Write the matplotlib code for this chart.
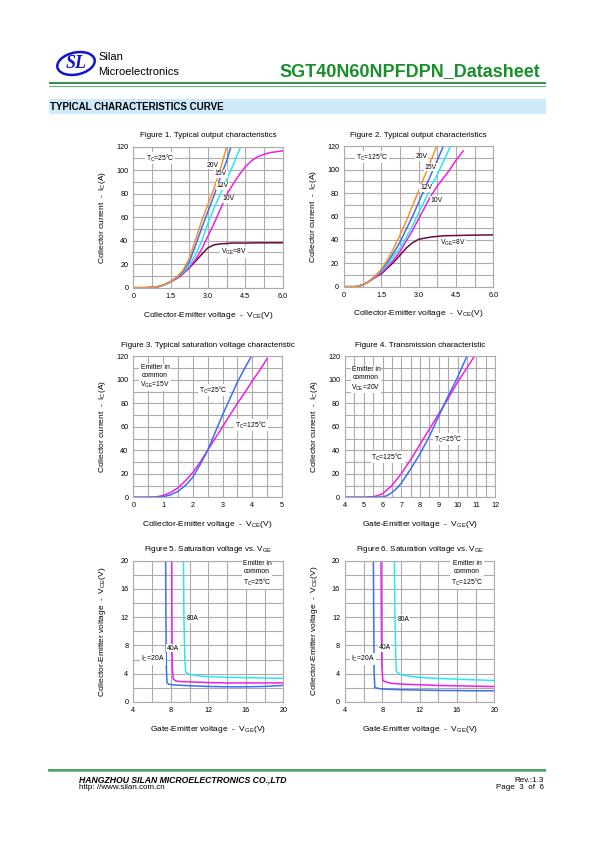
import numpy as np
import matplotlib.pyplot as plt
from matplotlib.patches import Ellipse, Rectangle

plt.rcParams['font.family'] = ['Liberation Sans', 'DejaVu Sans']
plt.rcParams['mathtext.fontset'] = 'custom'
plt.rcParams['mathtext.rm'] = 'Liberation Sans'
plt.rcParams['mathtext.it'] = 'Liberation Sans:italic'
plt.rcParams['mathtext.bf'] = 'Liberation Sans:bold'

# ---- Figure 1: output characteristics, Tc=25C (VCE in V, IC in A)
f1_v20 = [0, 0.5, 0.8, 1.0, 1.25, 1.5, 1.75, 2.0, 2.25, 2.5, 2.75, 3.0, 3.25, 3.5, 3.75]
f1_i20 = [0, 0, 0.3, 1, 2.5, 5, 9, 15, 25, 41, 57, 71, 85, 101, 120]
f1_v15 = [0, 0.5, 0.8, 1.0, 1.25, 1.5, 1.75, 2.0, 2.25, 2.5, 2.75, 3.0, 3.25, 3.5, 3.75, 3.92]
f1_i15 = [0, 0, 0.3, 1, 2.5, 5, 9, 14, 22, 36, 51, 65, 79, 94, 108, 120]
f1_v12 = [0, 0.5, 0.8, 1.0, 1.25, 1.5, 1.75, 2.0, 2.25, 2.5, 2.75, 3.0, 3.25, 3.5, 3.75, 4.0, 4.31]
f1_i12 = [0, 0, 0.3, 1, 2.5, 5, 9, 13, 19, 28, 40, 55, 68, 80, 92, 104, 120]
f1_v10 = [0, 0.5, 0.8, 1.0, 1.25, 1.5, 1.75, 2.0, 2.25, 2.5, 2.75, 3.0, 3.25, 3.5, 3.75,
          4.0, 4.25, 4.5, 4.75, 5.0, 5.25, 5.5, 6.0]
f1_i10 = [0, 0, 0.3, 1, 2.5, 5, 8.5, 12.5, 17.5, 24, 33, 44, 55, 67, 79,
          88, 96, 103, 108, 111.5, 113.5, 115, 116.5]
f1_v8 = [0, 0.5, 0.8, 1.0, 1.25, 1.5, 1.75, 2.0, 2.25, 2.5, 2.75, 3.0, 3.25, 3.5, 4.0, 4.5, 5.0, 6.0]
f1_i8 = [0, 0, 0.2, 0.8, 2.5, 5, 8, 12, 17, 22.5, 28.5, 34, 36.5, 37.3, 38, 38, 38.2, 38.2]

# ---- Figure 2: output characteristics, Tc=125C
f2_v20 = [0, 0.45, 0.6, 0.8, 1.0, 1.25, 1.5, 1.75, 2.0, 2.25, 2.5, 2.75, 3.0, 3.25, 3.5, 3.72]
f2_i20 = [0, 0, 0.5, 2, 4.5, 9, 15, 23, 33, 44, 56, 69, 82, 95, 108, 120]
f2_v15 = [0, 0.45, 0.6, 0.8, 1.0, 1.25, 1.5, 1.75, 2.0, 2.25, 2.5, 2.75, 3.0, 3.25, 3.5, 3.75, 3.99]
f2_i15 = [0, 0, 0.5, 2, 4.5, 9, 14, 21, 29, 38, 49, 60, 72, 84, 96, 108, 120]
f2_v12 = [0, 0.45, 0.6, 0.8, 1.0, 1.25, 1.5, 1.75, 2.0, 2.25, 2.5, 2.75, 3.0, 3.25, 3.5, 3.75, 4.0, 4.28]
f2_i12 = [0, 0, 0.5, 2, 4.5, 9, 13, 19, 26, 33, 42, 52, 63, 74, 85, 96, 107, 120]
f2_v10 = [0, 0.45, 0.6, 0.8, 1.0, 1.25, 1.5, 1.75, 2.0, 2.25, 2.5, 2.75, 3.0, 3.25, 3.5, 3.75,
          4.0, 4.25, 4.5, 4.79]
f2_i10 = [0, 0, 0.5, 2, 4.5, 8, 12, 17, 23, 30, 39, 48, 58, 68, 78, 86, 93, 100, 108, 116]
f2_v8 = [0, 0.45, 0.6, 0.8, 1.0, 1.25, 1.5, 1.75, 2.0, 2.25, 2.5, 2.75, 3.0, 3.5, 4.0, 5.0, 6.0]
f2_i8 = [0, 0, 0.5, 2, 4.5, 8, 11, 16, 21, 27, 33, 37.5, 40.5, 42.5, 43.5, 44, 44.3]

# ---- Figure 3: saturation voltage characteristic, VGE=15V
f3_v25 = [0, 0.5, 0.9, 1.0, 1.25, 1.5, 1.75, 2.0, 2.25, 2.5, 2.75, 3.0, 3.25, 3.5, 3.75, 3.97]
f3_i25 = [0, 0, 0.2, 0.5, 2, 5, 10, 17, 28, 40, 55, 70, 84, 98, 110, 120]
f3_v125 = [0, 0.5, 0.75, 1.0, 1.25, 1.5, 1.75, 2.0, 2.25, 2.5, 2.75, 3.0, 3.25, 3.5, 3.75, 4.0, 4.25, 4.5]
f3_i125 = [0, 0, 0.3, 1.5, 4, 8, 14, 21, 30, 40, 50, 60, 70, 80, 89, 99, 108, 118]

# ---- Figure 4: transfer characteristic, VCE=20V
f4_v25 = [4, 5, 6, 6.25, 6.5, 6.75, 7, 7.5, 8, 8.5, 9, 9.5, 10, 10.5]
f4_i25 = [0, 0, 0.3, 1.5, 4, 7.5, 12, 24, 37, 52, 69, 86, 102, 120]
f4_v125 = [4, 5, 5.5, 5.75, 6, 6.5, 7, 7.5, 8, 8.5, 9, 9.5, 10, 10.5, 10.9]
f4_i125 = [0, 0, 0.5, 1.5, 3, 10, 20, 32, 45, 58, 71, 84, 98, 110, 120]

# ---- Figure 5: VCE vs VGE, Tc=25C
f5_g20 = [7.45, 7.48, 7.52, 7.6, 7.8, 8.5, 10, 12, 14, 16, 18, 20]
f5_c20 = [20, 12, 5, 2.7, 2.5, 2.4, 2.3, 2.2, 2.15, 2.15, 2.2, 2.35]
f5_g40 = [8.1, 8.12, 8.15, 8.25, 8.5, 9, 10, 12, 14, 16, 18, 20]
f5_c40 = [20, 12, 5, 3.3, 3.0, 2.9, 2.85, 2.75, 2.7, 2.7, 2.7, 2.7]
f5_g80 = [9.35, 9.4, 9.5, 9.6, 10, 11, 12, 14, 16, 18, 20]
f5_c80 = [20, 12, 6, 4.2, 3.9, 3.7, 3.6, 3.5, 3.45, 3.4, 3.35]

# ---- Figure 6: VCE vs VGE, Tc=125C
f6_g20 = [7.04, 7.08, 7.12, 7.2, 7.5, 8, 10, 12, 14, 16, 18, 20]
f6_c20 = [20, 12, 4, 2.0, 1.9, 1.8, 1.7, 1.65, 1.6, 1.58, 1.55, 1.55]
f6_g40 = [7.86, 7.9, 7.95, 8.05, 8.5, 9, 10, 12, 14, 16, 18, 20]
f6_c40 = [20, 12, 5, 3.0, 2.75, 2.6, 2.5, 2.4, 2.3, 2.25, 2.2, 2.15]
f6_g80 = [9.29, 9.35, 9.45, 9.5, 10, 11, 12, 14, 16, 18, 20]
f6_c80 = [20, 12, 6, 4.3, 3.8, 3.6, 3.45, 3.3, 3.2, 3.1, 3.0]

# tick labels
vce_ticks = [0, 1.5, 3.0, 4.5, 6.0]
vce_labels = ['0', '1.5', '3.0', '4.5', '6.0']
ic_ticks = [0, 20, 40, 60, 80, 100, 120]
f3_xticks = [0, 1, 2, 3, 4, 5]
f4_xticks = [4, 5, 6, 7, 8, 9, 10, 11, 12]
vge_ticks = [4, 8, 12, 16, 20]
vce2_ticks = [0, 4, 8, 12, 16, 20]

ORANGE = '#f7922e'
BLUE = '#3d6ef2'
CYAN = '#2ae8f2'
MAGENTA = '#f01ee6'
MAROON = '#6b0b3c'
GRID = '#ababab'
GREEN = '#17902a'

W, H = 595, 842
fig = plt.figure(figsize=(W / 100, H / 100), dpi=100)


def box(x0, y0, x1, y1):
    # page pixels -> figure fraction
    return [x0 / W, 1 - y1 / H, (x1 - x0) / W, (y1 - y0) / H]


def setup(ax, xlim, xt, xtl, xstep, ylim, yt, ystep, title, xlabel, ylabel):
    ax.set_xlim(*xlim)
    ax.set_ylim(*ylim)
    ax.set_xticks(xt)
    ax.set_xticklabels(xtl)
    ax.set_yticks(yt)
    ax.set_xticks(np.arange(xlim[0], xlim[1] + 1e-6, xstep), minor=True)
    ax.set_yticks(np.arange(ylim[0], ylim[1] + 1e-6, ystep), minor=True)
    ax.grid(which='both', color=GRID, lw=0.8)
    ax.tick_params(which='both', length=0, labelsize=5.2, pad=3.5)
    for s in ax.spines.values():
        s.set_color(GRID)
        s.set_linewidth(0.8)
    ax.set_title(title, fontsize=5.8, pad=7)
    ax.set_xlabel(xlabel, fontsize=6)
    ax.xaxis.set_label_coords(0.5, -0.155)
    ax.set_ylabel(ylabel, fontsize=6)
    ax.yaxis.set_label_coords(-0.17, 0.5)


def note(ax, x, y, s, size=4.9):
    ax.text(x, y, s, fontsize=size, ha='center', va='center', zorder=5,
            bbox=dict(fc='white', ec='none', pad=0.6))


ic_lab = r'Collector current  -  I$_\mathrm{C}$(A)'
vce_lab = r'Collector-Emitter voltage  -  V$_\mathrm{CE}$(V)'
vge_lab = r'Gate-Emitter voltage  -  V$_\mathrm{GE}$(V)'
vce_y_lab = r'Collector-Emitter voltage  -  V$_\mathrm{CE}$(V)'
LW = 1.1

# Figure 1
ax = fig.add_axes(box(133.3, 146.7, 282.7, 287.7))
setup(ax, (0, 6), vce_ticks, vce_labels, 0.75, (0, 120), ic_ticks, 10,
      'Figure 1. Typical output characteristics', vce_lab, ic_lab)
ax.plot(f1_v8, f1_i8, color=MAROON, lw=LW)
ax.plot(f1_v10, f1_i10, color=MAGENTA, lw=LW)
ax.plot(f1_v12, f1_i12, color=CYAN, lw=LW)
ax.plot(f1_v15, f1_i15, color=BLUE, lw=LW)
ax.plot(f1_v20, f1_i20, color=ORANGE, lw=LW)
note(ax, 1.07, 110.4, r'T$_\mathrm{C}$=25°C')
note(ax, 3.18, 104.4, '20V')
note(ax, 3.52, 96.8, '15V')
note(ax, 3.58, 86.6, '12V')
note(ax, 3.84, 75.5, '10V')
note(ax, 4.04, 30.4, r'V$_\mathrm{GE}$=8V')

# Figure 2
ax = fig.add_axes(box(344, 146.3, 493.3, 286.7))
setup(ax, (0, 6), vce_ticks, vce_labels, 0.75, (0, 120), ic_ticks, 10,
      'Figure 2. Typical output characteristics', vce_lab, ic_lab)
ax.plot(f2_v8, f2_i8, color=MAROON, lw=LW)
ax.plot(f2_v10, f2_i10, color=MAGENTA, lw=LW)
ax.plot(f2_v12, f2_i12, color=CYAN, lw=LW)
ax.plot(f2_v15, f2_i15, color=BLUE, lw=LW)
ax.plot(f2_v20, f2_i20, color=ORANGE, lw=LW)
note(ax, 1.12, 110.9, r'T$_\mathrm{C}$=125°C')
note(ax, 3.11, 110.9, '20V')
note(ax, 3.49, 102.3, '15V')
note(ax, 3.31, 84.4, '12V')
note(ax, 3.73, 74.1, '10V')
note(ax, 4.36, 37.3, r'V$_\mathrm{GE}$=8V')

# Figure 3
ax = fig.add_axes(box(133.3, 356.3, 282, 497.3))
setup(ax, (0, 5), f3_xticks, [str(t) for t in f3_xticks], 0.5, (0, 120), ic_ticks, 10,
      'Figure 3. Typical saturation voltage characteristic', vce_lab, ic_lab)
ax.plot(f3_v125, f3_i125, color=MAGENTA, lw=LW)
ax.plot(f3_v25, f3_i25, color=BLUE, lw=LW)
note(ax, 0.73, 102.4, 'Emitter in\ncommon\n' + r'V$_\mathrm{GE}$=15V')
note(ax, 2.70, 91.3, r'T$_\mathrm{C}$=25°C')
note(ax, 3.96, 61.5, r'T$_\mathrm{C}$=125°C')

# Figure 4
ax = fig.add_axes(box(345, 356.3, 495, 497.3))
setup(ax, (4, 12), f4_xticks, [str(t) for t in f4_xticks], 0.5, (0, 120), ic_ticks, 10,
      'Figure 4. Transmission characteristic', vge_lab, ic_lab)
ax.plot(f4_v125, f4_i125, color=MAGENTA, lw=LW)
ax.plot(f4_v25, f4_i25, color=BLUE, lw=LW)
note(ax, 5.12, 100.5, 'Emitter in\ncommon\n' + r'V$_\mathrm{CE}$=20V')
note(ax, 9.52, 49.6, r'T$_\mathrm{C}$=25°C')
note(ax, 6.27, 34.3, r'T$_\mathrm{C}$=125°C')

# Figure 5
ax = fig.add_axes(box(133.3, 560.7, 283.3, 702))
setup(ax, (4, 20), vge_ticks, [str(t) for t in vge_ticks], 2, (0, 20), vce2_ticks, 2,
      r'Figure 5. Saturation voltage vs. V$_\mathrm{GE}$', vge_lab, vce_y_lab)
ax.plot(f5_g20, f5_c20, color=BLUE, lw=LW)
ax.plot(f5_g40, f5_c40, color=MAGENTA, lw=LW)
ax.plot(f5_g80, f5_c80, color=CYAN, lw=LW)
note(ax, 10.31, 11.75, '80A')
note(ax, 8.23, 7.64, '40A')
note(ax, 6.1, 6.09, r'I$_\mathrm{C}$=20A')
note(ax, 17.2, 18.1, 'Emitter in\ncommon\n' + r'T$_\mathrm{C}$=25°C')

# Figure 6
ax = fig.add_axes(box(345, 560.7, 494.3, 701.7))
setup(ax, (4, 20), vge_ticks, [str(t) for t in vge_ticks], 2, (0, 20), vce2_ticks, 2,
      r'Figure 6. Saturation voltage vs. V$_\mathrm{GE}$', vge_lab, vce_y_lab)
ax.plot(f6_g20, f6_c20, color=BLUE, lw=LW)
ax.plot(f6_g40, f6_c40, color=MAGENTA, lw=LW)
ax.plot(f6_g80, f6_c80, color=CYAN, lw=LW)
note(ax, 10.27, 11.73, '80A')
note(ax, 8.23, 7.62, '40A')
note(ax, 5.93, 6.06, r'I$_\mathrm{C}$=20A')
note(ax, 17.07, 18.1, 'Emitter in\ncommon\n' + r'T$_\mathrm{C}$=125°C')

# page header / footer drawn in pixel coordinates
pg = fig.add_axes([0, 0, 1, 1], zorder=-1)
pg.set_xlim(0, W)
pg.set_ylim(H, 0)
pg.axis('off')
pg.add_patch(Ellipse((76, 63.5), 38, 22, angle=-12, fill=False, ec='#1414c8', lw=1.8))
pg.text(76, 64, 'SL', fontsize=13, color='#1414c8', style='italic', fontweight='bold',
        family='Liberation Serif', ha='center', va='center')
pg.text(98, 57, 'Silan', fontsize=8, ha='left', va='center')
pg.text(98, 72.3, 'Microelectronics', fontsize=8, ha='left', va='center')
pg.text(540, 72, 'SGT40N60NPFDPN_Datasheet', fontsize=13, fontweight='bold',
        color=GREEN, ha='right', va='center')
pg.plot([49, 546], [83.3, 83.3], color='#2f8f4c', lw=1.4, solid_capstyle='butt')
pg.plot([49, 546], [85.6, 85.6], color='#5fb57a', lw=0.8, solid_capstyle='butt')
pg.add_patch(Rectangle((49, 99.3), 497, 14.7, color='#cde9fa', lw=0))
pg.text(50, 106.8, 'TYPICAL CHARACTERISTICS CURVE', fontsize=7, fontweight='bold',
        ha='left', va='center')
pg.plot([48, 546], [769.5, 769.5], color='#2f8f4c', lw=1.2, solid_capstyle='butt')
pg.plot([48, 546], [771.3, 771.3], color='#5fb57a', lw=0.6, solid_capstyle='butt')
pg.text(79, 780, 'HANGZHOU SILAN MICROELECTRONICS CO.,LTD', fontsize=6.2,
        fontweight='bold', style='italic', ha='left', va='center')
pg.text(79, 787.5, 'http: //www.silan.com.cn', fontsize=5.8, ha='left', va='center')
pg.text(544, 780, 'Rev.:1.3', fontsize=5.8, ha='right', va='center')
pg.text(544, 787.5, 'Page  3  of  6', fontsize=5.8, ha='right', va='center')

fig.savefig('out.png', dpi=100)
